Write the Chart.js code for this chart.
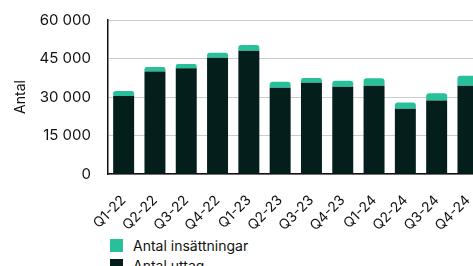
<!DOCTYPE html>
<html><head><meta charset="utf-8">
<script src="https://cdn.jsdelivr.net/npm/chart.js@4"></script>
<style>
html,body{margin:0;padding:0;width:473px;height:266px;overflow:hidden;background:#fff;font-family:Inter,sans-serif;}
#wrap{position:absolute;left:0;top:-6px;width:490px;height:236px;}
#legend{position:absolute;left:110px;top:235px;font:14px Inter,sans-serif;color:#111;}
.li{display:flex;align-items:center;height:20px;}
.sw{width:13px;height:13px;margin-right:10px;}
</style></head><body>
<div id="wrap"><canvas id="c" width="490" height="236"></canvas></div>
<div id="legend"></div>
<script>
const categories = ["Q1-22","Q2-22","Q3-22","Q4-22","Q1-23","Q2-23","Q3-23","Q4-23","Q1-24","Q2-24","Q3-24","Q4-24"];
const uttag = [30400,39900,41200,45300,48000,33600,35600,34000,34400,25400,28600,34400];
const insattningar = [1950,1830,1690,1950,2220,2300,1830,2340,2870,2480,2870,3900];
const seriesNames = ["Antal insättningar","Antal uttag"];
const yTicks = [0,15000,30000,45000,60000];
const colors = {teal:"#27C09B", dark:"#041F1B"};

function fmt(v){return String(v).replace(/\B(?=(\d{3})+(?!\d))/g,"\u00a0");}

const font = {family:"Inter, sans-serif"};
new Chart(document.getElementById("c"),{
  type:"bar",
  data:{labels:categories,datasets:[
    {label:seriesNames[1],data:uttag,backgroundColor:colors.dark,barPercentage:0.67,categoryPercentage:1,stack:"s"},
    {label:seriesNames[0],data:insattningar,backgroundColor:colors.teal,barPercentage:0.67,categoryPercentage:1,stack:"s",borderRadius:{topLeft:3,topRight:3,bottomLeft:0,bottomRight:0},borderSkipped:false}
  ]},
  options:{
    responsive:false,animation:false,
    layout:{padding:{top:0,right:4,left:0,bottom:0}},
    plugins:{legend:{display:false},tooltip:{enabled:false}},
    scales:{
      x:{stacked:true,
        grid:{display:false},
        border:{display:true,color:"#111",width:1.5},
        ticks:{color:"#111",font:{...font,size:14},maxRotation:45,minRotation:45,padding:10,autoSkip:false},
        afterFit:s=>{s.height=56;}
      },
      y:{stacked:true,min:0,max:60000,
        afterBuildTicks:s=>{s.ticks=yTicks.map(v=>({value:v}));},
        grid:{color:"#cccccc",drawTicks:false},
        border:{display:true,color:"#111",width:1.5},
        ticks:{color:"#111",font:{...font,size:15},padding:17,callback:v=>fmt(v)},
        title:{display:true,text:"Antal",color:"#111",font:{...font,size:14},padding:{top:12,bottom:4}},
        afterFit:s=>{s.width=108;}
      }
    }
  }
});
const lg=document.getElementById("legend");
[[seriesNames[0],colors.teal],[seriesNames[1],colors.dark]].forEach(([t,c])=>{
  const d=document.createElement("div");d.className="li";
  d.innerHTML='<span class="sw" style="background:'+c+'"></span><span>'+t+'</span>';
  lg.appendChild(d);
});
</script>
</body></html>
